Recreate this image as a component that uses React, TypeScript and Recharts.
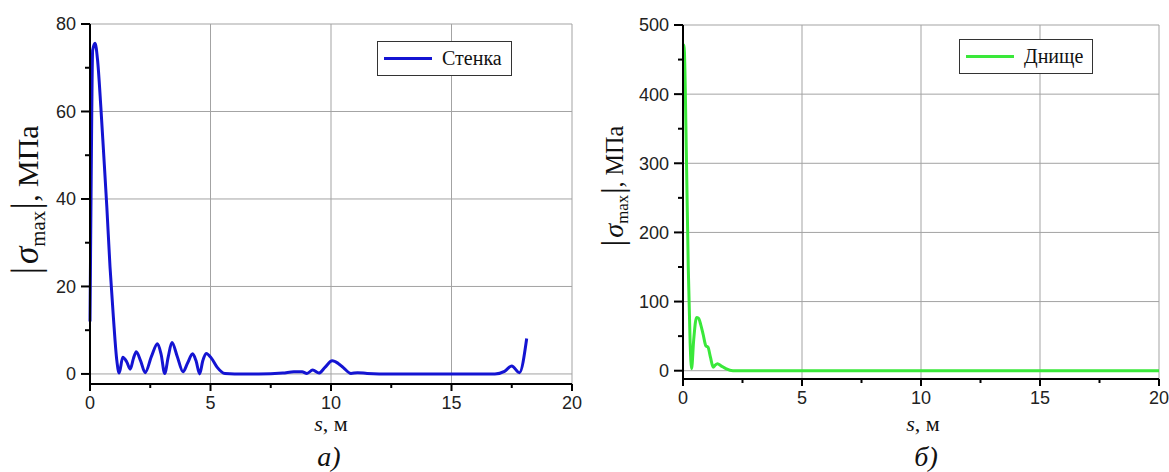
import React from "react";
import { LineChart, Line, XAxis, YAxis, ReferenceLine, Legend } from "recharts";

// panel a) — wall
const sWall = [0, 0.05, 0.11, 0.21, 0.31, 0.45, 0.56, 0.7, 0.83, 0.97, 1.11, 1.21, 1.36, 1.52, 1.67, 1.8, 1.92, 2.1, 2.29, 2.55, 2.8, 2.95, 3.1, 3.25, 3.4, 3.62, 3.86, 4.05, 4.26, 4.4, 4.55, 4.68, 4.82, 5.05, 5.28, 5.6, 6.0, 7.0, 8.0, 8.46, 8.8, 9.0, 9.24, 9.5, 9.75, 10.05, 10.3, 10.5, 10.83, 11.1, 11.5, 12, 14, 16, 16.8, 17.2, 17.5, 17.82, 18.12];
const sigmaWall = [12, 45, 74, 75.6, 72, 61, 51, 38, 24.5, 13, 3.2, 0.2, 3.8, 2.8, 1.1, 3.5, 5.1, 3, 0.3, 4, 6.9, 4.5, 0.1, 4, 7.2, 4, 0.5, 2.5, 4.6, 3, 0, 3, 4.7, 3.5, 1.5, 0.1, 0, 0, 0.2, 0.5, 0.5, 0.1, 0.9, 0.2, 1.5, 3, 2.4, 1.5, 0.1, 0.3, 0.1, 0, 0, 0, 0, 0.6, 1.8, 0.3, 8.1];

// panel б) — bottom
const sBottom = [0, 0.04, 0.15, 0.22, 0.3, 0.36, 0.45, 0.57, 0.65, 0.75, 0.85, 0.96, 1.05, 1.15, 1.27, 1.35, 1.45, 1.6, 1.8, 2.1, 3, 20];
const sigmaBottom = [470, 471, 296, 151, 40, 3, 45, 77, 76, 66, 52, 36, 34, 20, 5, 8, 10, 7, 3, 0, 0, 0];

const sTicks = [0, 2.5, 5, 7.5, 10, 12.5, 15, 17.5, 20];
const sMajor = [0, 5, 10, 15, 20];
const wallTicks = [0, 10, 20, 30, 40, 50, 60, 70, 80];
const wallMajor = [0, 20, 40, 60, 80];
const bottomTicks = [0, 50, 100, 150, 200, 250, 300, 350, 400, 450, 500];
const bottomMajor = [0, 100, 200, 300, 400, 500];

const wallData = sWall.map((s, i) => ({ s, v: sigmaWall[i] }));
const bottomData = sBottom.map((s, i) => ({ s, v: sigmaBottom[i] }));

const GRID = "#a3a3a3";
const SANS = '"Liberation Sans", Arial, sans-serif';
const SERIF = '"Liberation Serif", "Times New Roman", serif';

const yTick = (major: number[]) => (p: any) => {
  const v = p.payload.value;
  const big = major.includes(v);
  const len = big ? 9 : 5;
  return (
    <g>
      <line x1={p.x - len} x2={p.x} y1={p.y} y2={p.y} stroke="#000" strokeWidth={2} />
      {big && (
        <text x={p.x - 14} y={p.y} dy="0.36em" textAnchor="end" fontFamily={SANS} fontSize={18} fill="#222">
          {v}
        </text>
      )}
    </g>
  );
};

const xTick = (p: any) => {
  const v = p.payload.value;
  const big = sMajor.includes(v);
  const len = big ? 7 : 4;
  return (
    <g>
      <line x1={p.x} x2={p.x} y1={p.y} y2={p.y + len} stroke="#000" strokeWidth={2} />
      {big && (
        <text x={p.x} y={p.y + 25} textAnchor="middle" fontFamily={SANS} fontSize={18} fill="#222">
          {v}
        </text>
      )}
    </g>
  );
};

const legendBox = (color: string, label: string) => () => (
  <div
    style={{
      display: "flex",
      alignItems: "center",
      border: "1px solid #333",
      background: "#fff",
      padding: "5px 9px 5px 6px",
      fontFamily: SERIF,
      fontSize: 20,
      color: "#111",
    }}
  >
    <span style={{ display: "inline-block", width: 48, height: 3, background: color, marginRight: 10 }} />
    {label}
  </div>
);

function Panel(props: any) {
  const { data, color, name, yTicks, yMajor, yDomain, left, width, yW, xH, top, right, legendLeft, legendTop } = props;
  return (
    <div style={{ position: "absolute", left, top: 0, width, height: 472 }}>
      <LineChart width={width} height={472} data={data} margin={{ top, right, left: 0, bottom: 0 }}>
        {yMajor.map((v: number) => (
          <ReferenceLine key={"h" + v} y={v} stroke={GRID} strokeWidth={1} />
        ))}
        {sMajor.slice(1).map((v) => (
          <ReferenceLine key={"v" + v} x={v} stroke={GRID} strokeWidth={1} />
        ))}
        <XAxis
          dataKey="s"
          type="number"
          domain={[0, 20]}
          ticks={sTicks}
          interval={0}
          tickSize={0}
          tickMargin={0}
          tickLine={false}
          tick={xTick}
          height={xH}
          axisLine={{ stroke: "#000", strokeWidth: 2 }}
        />
        <YAxis
          type="number"
          domain={yDomain}
          ticks={yTicks}
          interval={0}
          tickSize={0}
          tickMargin={0}
          tickLine={false}
          tick={yTick(yMajor)}
          width={yW}
          axisLine={{ stroke: "#000", strokeWidth: 2 }}
        />
        <Legend
          layout="horizontal"
          verticalAlign="middle"
          align="center"
          content={legendBox(color, name)}
          wrapperStyle={{ position: "absolute", left: legendLeft, top: legendTop, width: "auto", height: "auto" }}
        />
        <Line
          type="monotone"
          dataKey="v"
          name={name}
          stroke={color}
          strokeWidth={3}
          dot={false}
          isAnimationActive={false}
        />
      </LineChart>
    </div>
  );
}

function YTitle({ x, y, k }: { x: number; y: number; k: number }) {
  return (
    <text transform={`translate(${x},${y}) rotate(-90)`} textAnchor="middle" fontFamily={SERIF} fill="#111">
      <tspan fontSize={30 * k}>|</tspan>
      <tspan fontSize={27 * k} fontStyle="italic" dx={2 * k}>σ</tspan>
      <tspan fontSize={16 * k} dy={5 * k}>max</tspan>
      <tspan fontSize={30 * k} dy={-5 * k} dx={1 * k}>|</tspan>
      <tspan fontSize={23 * k}>, МПа</tspan>
    </text>
  );
}

function XTitle({ x, y }: { x: number; y: number }) {
  return (
    <text x={x} y={y} textAnchor="middle" fontFamily={SERIF} fontSize={22} fill="#111">
      <tspan fontStyle="italic">s</tspan>, м
    </text>
  );
}

export default function App() {
  return (
    <div style={{ position: "absolute", left: 0, top: 0, width: 1169, height: 472, background: "#fff" }}>
      <Panel
        data={wallData}
        color="#1414d2"
        name="Стенка"
        yTicks={wallTicks}
        yMajor={wallMajor}
        yDomain={[-2.3, 80]}
        left={0}
        width={600}
        yW={90}
        xH={88}
        top={24}
        right={28}
        legendLeft={377}
        legendTop={41}
      />
      <Panel
        data={bottomData}
        color="#3ae83a"
        name="Днище"
        yTicks={bottomTicks}
        yMajor={bottomMajor}
        yDomain={[-12, 500]}
        left={600}
        width={569}
        yW={83}
        xH={93}
        top={25}
        right={10}
        legendLeft={359}
        legendTop={39}
      />
      <svg width={1169} height={472} style={{ position: "absolute", left: 0, top: 0, pointerEvents: "none" }}>
        <YTitle x={38} y={200} k={1.3} />
        <YTitle x={623} y={186} k={1.05} />
        <XTitle x={331} y={431} />
        <XTitle x={923} y={431} />
        <text x={329} y={466} textAnchor="middle" fontFamily={SERIF} fontSize={28} fontStyle="italic" fill="#111">
          а)
        </text>
        <text x={926} y={466} textAnchor="middle" fontFamily={SERIF} fontSize={28} fontStyle="italic" fill="#111">
          б)
        </text>
      </svg>
    </div>
  );
}
